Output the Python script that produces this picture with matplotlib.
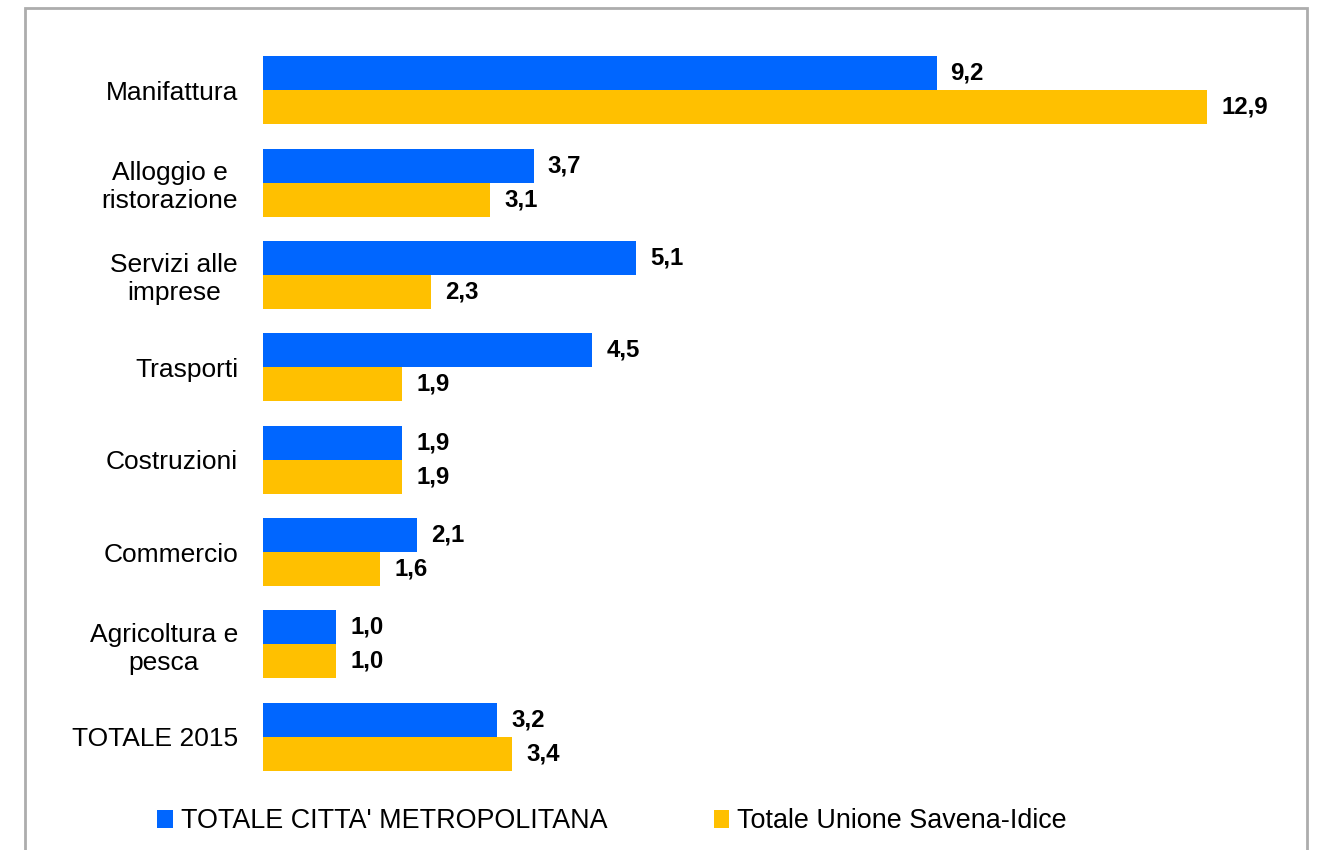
import matplotlib
matplotlib.use("Agg")
import matplotlib.pyplot as plt
from matplotlib.patches import Patch, Rectangle
import numpy as np

plt.rcParams['font.family'] = ['Liberation Sans', 'DejaVu Sans']

categories = ["Manifattura", "Alloggio e\nristorazione", "Servizi alle\nimprese",
              "Trasporti", "Costruzioni", "Commercio", "Agricoltura e\npesca",
              "TOTALE 2015"]
citta_metropolitana = [9.2, 3.7, 5.1, 4.5, 1.9, 2.1, 1.0, 3.2]
unione_savena_idice = [12.9, 3.1, 2.3, 1.9, 1.9, 1.6, 1.0, 3.4]
series_names = ["TOTALE CITTA' METROPOLITANA", "Totale Unione Savena-Idice"]

blue = "#0066FF"
yellow = "#FFC000"

fig = plt.figure(figsize=(13.19, 8.5), dpi=100)
ax = fig.add_axes([263 / 1319, 1 - 783 / 850, (1288 - 263) / 1319, (783 - 44) / 850])

y = np.arange(len(categories))
h = 0.368
ax.barh(y - h / 2, citta_metropolitana, height=h, color=blue)
ax.barh(y + h / 2, unione_savena_idice, height=h, color=yellow)

fmt = lambda v: f"{v:.1f}".replace(".", ",")
for yi, v in zip(y, citta_metropolitana):
    ax.annotate(fmt(v), (v, yi - h / 2), xytext=(14, 0), textcoords="offset pixels",
                va="center", ha="left", fontsize=17.3, fontweight="bold")
for yi, v in zip(y, unione_savena_idice):
    ax.annotate(fmt(v), (v, yi + h / 2), xytext=(14, 0), textcoords="offset pixels",
                va="center", ha="left", fontsize=17.3, fontweight="bold")

ax.set_xlim(0, 14)
ax.set_ylim(len(categories) - 0.5, -0.5)
ax.set_yticks(y)
ax.set_yticklabels(categories, fontsize=19, multialignment="center")
ax.tick_params(axis="y", length=0, pad=18)
ax.set_xticks([])
for s in ax.spines.values():
    s.set_visible(False)

handles = [Patch(facecolor=blue), Patch(facecolor=yellow)]
fig.legend(handles, series_names, loc="center", bbox_to_anchor=(612 / 1319, 1 - 821 / 850),
           ncol=2, frameon=False, fontsize=19.4, handlelength=0.57, handleheight=0.65,
           handletextpad=0.3, columnspacing=3.95)

fig.patches.append(Rectangle((25 / 1319, -0.05), (1307 - 25) / 1319, 1.05 - 8 / 850,
                             transform=fig.transFigure, fill=False,
                             edgecolor="#ADADAD", linewidth=2))

fig.savefig("out.png", dpi=100)
